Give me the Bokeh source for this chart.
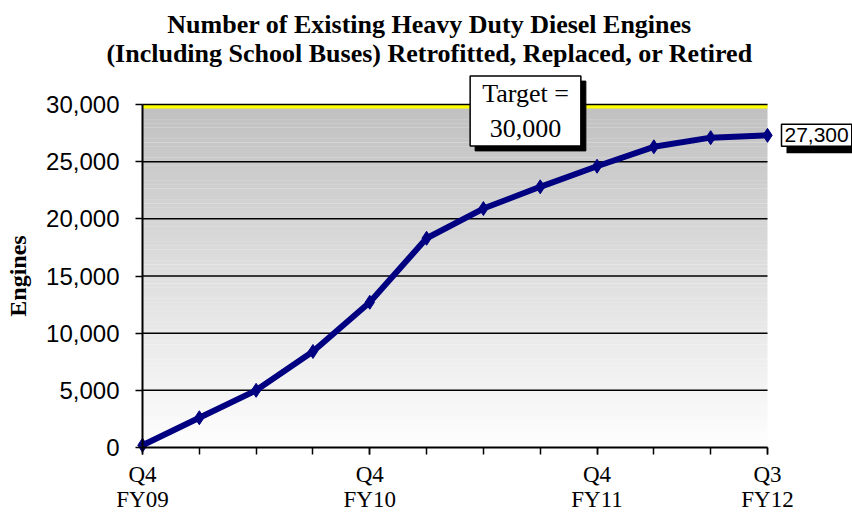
import numpy as np
from bokeh.plotting import figure
from bokeh.models import Range1d, FixedTicker, NumeralTickFormatter, Label, BoxAnnotation
from bokeh.embed import file_html
from bokeh.resources import INLINE

# ---- data ----
quarters = ["Q4 FY09", "Q1 FY10", "Q2 FY10", "Q3 FY10", "Q4 FY10", "Q1 FY11",
            "Q2 FY11", "Q3 FY11", "Q4 FY11", "Q1 FY12", "Q2 FY12", "Q3 FY12"]
engines = [200, 2600, 5000, 8400, 12700, 18300, 20900, 22800, 24600, 26300, 27100, 27300]
x_tick_labels = ["Q4\nFY09", "", "", "", "Q4\nFY10", "", "", "", "Q4\nFY11", "", "", "Q3\nFY12"]
y_ticks = [0, 5000, 10000, 15000, 20000, 25000, 30000]
target = 30000
title_lines = ["Number of Existing Heavy Duty Diesel Engines",
               "(Including School Buses) Retrofitted, Replaced, or Retired"]
y_label = "Engines"

xs = list(range(len(quarters)))
x_last = xs[-1]
labeled = [i for i, lab in enumerate(x_tick_labels) if lab]

# ---- layout (pixels) ----
W, H = 852, 512
PL, PR, PT, PB = 142, 767, 104, 447   # plot-area edges
ux = (PR - PL) / x_last               # px per category step
uy = (PB - PT) / target               # px per engine

p = figure(width=W, height=H,
           x_range=Range1d(-PL / ux, x_last + (W - PR) / ux),
           y_range=Range1d(-(H - PB) / uy, target + PT / uy),
           output_backend="svg", toolbar_location=None)
p.min_border = 0
p.min_border_left = 0
p.min_border_right = 0
p.min_border_top = 0
p.min_border_bottom = 0
p.title.visible = False
p.outline_line_color = None
p.grid.visible = False
p.background_fill_color = "white"
p.border_fill_color = "white"

# gradient background (decoration)
n = 90
bottoms = np.linspace(0, target, n + 1)[:-1]
step = target / n
tops = np.minimum(bottoms + step * 1.05, target)
shade = []
for b in bottoms:
    t = (b + step / 2) / target
    g = int(round(254 - 62 * t))
    shade.append("#%02x%02x%02x" % (g, g, g))
p.quad(left=0, right=x_last, bottom=bottoms, top=tops, fill_color=shade, line_color=None)

# grid lines
mid = y_ticks[1:-1]
p.segment(x0=[0] * len(mid), x1=[x_last] * len(mid), y0=mid, y1=mid,
          line_color="black", line_width=1.5)
# target line (yellow band under the top grid line)
p.quad(left=[0], right=[x_last], bottom=[target - 4 / uy], top=[target],
       fill_color="#ffff00", line_color=None)
p.segment(x0=[0], x1=[x_last], y0=[target], y1=[target], line_color="black", line_width=1.5)

# series
p.line(xs, engines, line_color="#000080", line_width=6)
p.scatter(xs, engines, marker="diamond", size=14, color="#000080")

# axes
ya = p.yaxis[0]
ya.fixed_location = 0
ya.bounds = (0, target)
ya.ticker = FixedTicker(ticks=y_ticks)
ya.formatter = NumeralTickFormatter(format="0,0")
ya.major_label_text_font = "Liberation Sans"
ya.major_label_text_font_size = "24px"
ya.major_label_text_color = "black"
ya.major_tick_out = 7
ya.major_tick_in = 0
ya.minor_tick_out = 0
ya.minor_tick_in = 0
ya.axis_line_width = 2
ya.major_tick_line_width = 1.5
ya.major_label_standoff = 16
ya.axis_label = y_label
ya.axis_label_text_font = "Liberation Serif"
ya.axis_label_text_font_style = "bold"
ya.axis_label_text_font_size = "24px"
ya.axis_label_text_color = "black"
ya.axis_label_standoff = 12

xa = p.xaxis[0]
xa.fixed_location = 0
xa.bounds = (0, x_last)
xa.ticker = FixedTicker(ticks=labeled, minor_ticks=xs)
xa.major_label_overrides = {i: x_tick_labels[i] for i in labeled}
xa.major_label_text_font = "Liberation Serif"
xa.major_label_text_font_size = "23px"
xa.major_label_text_color = "black"
xa.major_label_text_line_height = 1.0
xa.major_label_standoff = 7
xa.major_tick_out = 7
xa.major_tick_in = 0
xa.minor_tick_out = 7
xa.minor_tick_in = 0
xa.axis_line_width = 2
xa.major_tick_line_width = 1.5
xa.minor_tick_line_width = 1.5
xa.minor_tick_line_color = "black"

# title
for line, dy in zip(title_lines, [80, 51]):
    p.add_layout(Label(x=0, y=target, x_offset=287, y_offset=dy, text=line,
                       text_align="center", text_baseline="alphabetic",
                       text_font="Liberation Serif", text_font_style="bold",
                       text_font_size="26px", text_color="black"))

# target box with shadow
target_text = f"Target =\n{target:,}"
box_style = dict(text_align="center", text_baseline="middle",
                 text_font="Liberation Serif", text_font_size="26px",
                 text_line_height=1.2, padding=(12, 3))
p.add_layout(Label(x=0, y=target, x_offset=388, y_offset=-11.5, text=target_text,
                   text_color="black", background_fill_color="black",
                   border_line_color="black", **box_style))
p.add_layout(Label(x=0, y=target, x_offset=383, y_offset=-6.5, text=target_text,
                   text_color="black", background_fill_color="white",
                   border_line_color="black", border_line_width=1.5, **box_style))

# end value label with shadow
end_text = f"{engines[-1]:,}"
p.add_layout(BoxAnnotation(left=x_last + 19 / ux, right=x_last + 100 / ux,
                           top=engines[-1] + 8 / uy, bottom=engines[-1] - 18 / uy,
                           fill_color="black", fill_alpha=1.0, line_color=None))
p.add_layout(Label(x=x_last, y=engines[-1], x_offset=14, y_offset=0, text=end_text,
                   text_align="left", text_baseline="middle",
                   text_font="Liberation Sans", text_font_size="21px", padding=(3, 4),
                   text_color="black", background_fill_color="white",
                   border_line_color="black", border_line_width=1.5))

open("out.html", "w").write(file_html(p, INLINE))
